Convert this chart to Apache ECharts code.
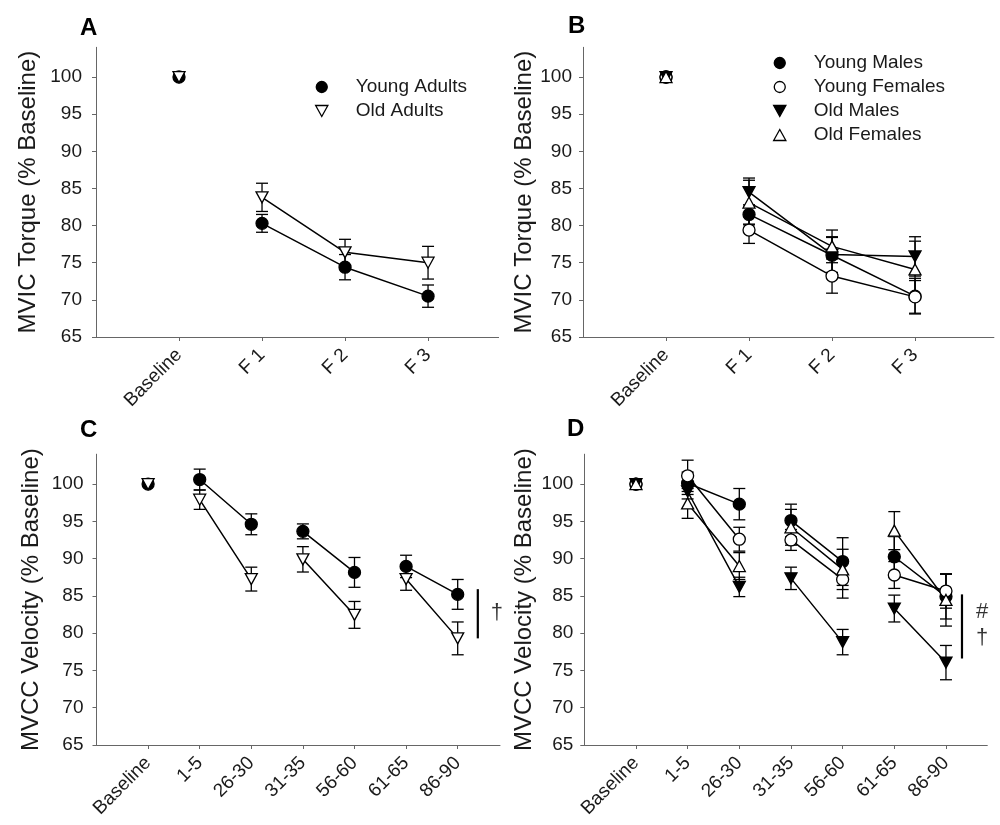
<!DOCTYPE html>
<html>
<head>
<meta charset="utf-8">
<script src="https://cdn.jsdelivr.net/npm/echarts@6/dist/echarts.min.js"></script>
<style>
html, body { margin: 0; background: #fff; }
#main { width: 1000px; height: 825px; }
</style>
</head>
<body>
<div id="main"></div>
<script>
// categories and ticks
var torqueLabels = ['Baseline', 'F 1', 'F 2', 'F 3'];
var velLabels = ['Baseline', '1-5', '26-30', '31-35', '56-60', '61-65', '86-90'];
var yTicks = [65, 70, 75, 80, 85, 90, 95, 100];

// A - MVIC torque, age groups (mean, SE)
var aYoung = [100, 80.3, 74.4, 70.5];
var aYoungErr = [0, 1.2, 1.7, 1.5];
var aOld = [100, 83.8, 76.4, 75.0];
var aOldErr = [0, 1.9, 1.75, 2.2];

// B - MVIC torque, age x sex
var bYM = [100, 81.5, 76.0, 70.5];
var bYMErr = [0, 1.3, 2.4, 2.4];
var bYF = [100, 79.4, 73.2, 70.4];
var bYFErr = [0, 1.8, 2.3, 2.2];
var bOM = [100, 84.5, 76.1, 75.85];
var bOMErr = [0, 1.9, 2.4, 2.65];
var bOF = [100, 83.1, 77.2, 74.1];
var bOFErr = [0, 3.0, 2.2, 3.8];

// C - MVCC velocity, age groups
var cYoung = [100, 100.6, 94.6, 93.65, 88.15, 88.95, 85.2];
var cYoungErr = [0, 1.4, 1.4, 1.0, 2.0, 1.5, 2.0];
var cOld = [100, 97.9, 87.25, 89.9, 82.45, 87.25, 79.3];
var cOldErr = [0, 1.3, 1.6, 1.7, 1.8, 1.5, 2.2];

// D - MVCC velocity, age x sex
var dYM = [100, 100.1, 97.3, 95.1, 89.6, 90.25, 84.9];
var dYMErr = [0, 1.5, 2.1, 2.2, 3.2, 2.7, 3.0];
var dYF = [100, 101.1, 92.6, 92.5, 87.2, 87.8, 85.65];
var dYFErr = [0, 2.1, 1.6, 1.4, 2.5, 1.8, 2.3];
var dOM = [100, 99.0, 86.2, 87.35, 78.8, 83.3, 76.05];
var dOMErr = [0, 1.0, 1.3, 1.5, 1.7, 1.8, 2.3];
var dOF = [100, 97.4, 89.0, 94.2, 88.55, 93.75, 84.45];
var dOFErr = [0, 2.0, 1.8, 2.4, 2.7, 2.55, 3.5];

// which points are joined by lines
var torqueSegs = [[0], [1, 2, 3]];
var velSegs = [[0], [1, 2], [3, 4], [5, 6]];

// significance marks (x in category units, y in % baseline)
var cSigLine = [[7.39, 85.9], [7.39, 79.3]];
var cSigText = [[7.76, 82.7, '†']];
var dSigLine = [[7.31, 85.2], [7.31, 76.6]];
var dSigText = [[7.70, 82.8, '#'], [7.70, 79.35, '†']];

var FONT = 'Liberation Sans, Arial, sans-serif';
var INK = '#1a1a1a';
var downTri = 'path://M0,0L10,0L5,9Z';
var upTri = 'path://M5,0L10,9L0,9Z';

var marks = {
  fillCircle: { symbol: 'circle', size: 12, fill: '#000' },
  openCircle: { symbol: 'circle', size: 12, fill: '#fff' },
  fillDown: { symbol: downTri, size: [12, 11], fill: '#000' },
  openDown: { symbol: downTri, size: [12, 11], fill: '#fff' },
  openUp: { symbol: upTri, size: [12, 11], fill: '#fff' }
};

function errRender(params, api) {
  var x = api.value(0);
  var top = api.coord([x, api.value(2)]);
  var bot = api.coord([x, api.value(1)]);
  var w = 6;
  var st = { stroke: '#000', lineWidth: 1.3 };
  return {
    type: 'group',
    children: [
      { type: 'line', shape: { x1: top[0], y1: top[1], x2: bot[0], y2: bot[1] }, style: st },
      { type: 'line', shape: { x1: top[0] - w, y1: top[1], x2: top[0] + w, y2: top[1] }, style: st },
      { type: 'line', shape: { x1: bot[0] - w, y1: bot[1], x2: bot[0] + w, y2: bot[1] }, style: st }
    ]
  };
}

var series = [];

function addGroup(gi, name, vals, errs, segs, mk) {
  var lineData = [];
  segs.forEach(function (seg) {
    seg.forEach(function (i) { lineData.push([i + 1, vals[i]]); });
    lineData.push([seg[seg.length - 1] + 1.5, '-']);
  });
  series.push({
    name: name + ' line', type: 'line', xAxisIndex: gi, yAxisIndex: gi,
    data: lineData, showSymbol: false, symbol: 'none', connectNulls: false,
    lineStyle: { color: '#000', width: 1.5 }, z: 2, silent: true
  });
  var errData = [];
  vals.forEach(function (v, i) {
    if (errs[i] > 0) errData.push([i + 1, v - errs[i], v + errs[i]]);
  });
  series.push({
    name: name + ' err', type: 'custom', xAxisIndex: gi, yAxisIndex: gi,
    data: errData, renderItem: errRender, encode: { x: 0, y: [1, 2] }, z: 3, silent: true
  });
  series.push({
    name: name, type: 'scatter', xAxisIndex: gi, yAxisIndex: gi,
    data: vals.map(function (v, i) { return [i + 1, v]; }),
    symbol: mk.symbol, symbolSize: mk.size,
    itemStyle: { color: mk.fill, borderColor: '#000', borderWidth: 1.3, opacity: 1 },
    z: 4, silent: true
  });
}

function addSig(gi, lineData, textData) {
  series.push({
    name: 'sig line ' + gi, type: 'line', xAxisIndex: gi, yAxisIndex: gi,
    data: lineData, symbol: 'none', lineStyle: { color: '#000', width: 2.2 }, z: 2, silent: true
  });
  series.push({
    name: 'sig text ' + gi, type: 'scatter', xAxisIndex: gi, yAxisIndex: gi, clip: false,
    data: textData.map(function (d) { return { value: [d[0], d[1]], label: { formatter: d[2] } }; }),
    symbolSize: 1, itemStyle: { color: 'transparent' },
    label: { show: true, position: 'inside', fontSize: 22, color: '#000', fontFamily: FONT },
    z: 5, silent: true
  });
}

addGroup(0, 'Young Adults', aYoung, aYoungErr, torqueSegs, marks.fillCircle);
addGroup(0, 'Old Adults', aOld, aOldErr, torqueSegs, marks.openDown);

addGroup(1, 'Young Males', bYM, bYMErr, torqueSegs, marks.fillCircle);
addGroup(1, 'Young Females', bYF, bYFErr, torqueSegs, marks.openCircle);
addGroup(1, 'Old Males', bOM, bOMErr, torqueSegs, marks.fillDown);
addGroup(1, 'Old Females', bOF, bOFErr, torqueSegs, marks.openUp);

addGroup(2, 'Young Adults', cYoung, cYoungErr, velSegs, marks.fillCircle);
addGroup(2, 'Old Adults', cOld, cOldErr, velSegs, marks.openDown);
addSig(2, cSigLine, cSigText);

addGroup(3, 'Young Males', dYM, dYMErr, velSegs, marks.fillCircle);
addGroup(3, 'Young Females', dYF, dYFErr, velSegs, marks.openCircle);
addGroup(3, 'Old Males', dOM, dOMErr, velSegs, marks.fillDown);
addGroup(3, 'Old Females', dOF, dOFErr, velSegs, marks.openUp);
addSig(3, dSigLine, dSigText);

function yAxisCfg(gi, name, gap, margin) {
  return {
    type: 'value', gridIndex: gi, min: 65, max: 104, interval: 5,
    name: name, nameLocation: 'middle', nameGap: gap,
    nameTextStyle: { fontSize: 24, color: INK, fontFamily: FONT },
    axisLine: { show: true, onZero: false, lineStyle: { color: '#666', width: 1 } },
    axisTick: { show: true, length: 4, customValues: yTicks, lineStyle: { color: '#666' } },
    axisLabel: { fontSize: 19, color: INK, margin: margin, customValues: yTicks },
    splitLine: { show: false }
  };
}

function xAxisCfg(gi, max, labels) {
  var pos = labels.map(function (l, i) { return i + 1; });
  return {
    type: 'value', gridIndex: gi, min: 0, max: max, interval: 1,
    axisLine: { show: true, onZero: false, lineStyle: { color: '#666', width: 1 } },
    axisTick: { show: true, length: 4, customValues: pos, lineStyle: { color: '#666' } },
    axisLabel: {
      customValues: pos, rotate: 45, fontSize: 19, margin: 15, color: INK,
      formatter: function (v) { return labels[Math.round(v) - 1] || ''; }
    },
    splitLine: { show: false }
  };
}

function panelTitle(txt, left, top) {
  return {
    text: txt, left: left, top: top, padding: 0,
    textStyle: { fontSize: 24, fontWeight: 'bold', color: '#000', fontFamily: FONT }
  };
}

function legendCfg(names, left, top) {
  return {
    data: names, left: left, top: top, orient: 'vertical',
    itemWidth: 58, itemHeight: 11, itemGap: 4, selectedMode: false,
    itemStyle: { borderWidth: 1.3, borderColor: '#000' },
    textStyle: { fontSize: 19, color: INK, lineHeight: 20, fontFamily: FONT }
  };
}

var chart = echarts.init(document.getElementById('main'), null, { renderer: 'canvas' });

chart.setOption({
  backgroundColor: '#fff',
  animation: false,
  textStyle: { fontFamily: FONT },
  title: [
    panelTitle('A', 80, 16),
    panelTitle('B', 568, 14),
    panelTitle('C', 80, 418),
    panelTitle('D', 567, 417)
  ],
  legend: [
    legendCfg(['Young Adults', 'Old Adults'], 310, 72),
    legendCfg(['Young Males', 'Young Females', 'Old Males', 'Old Females'], 768, 48)
  ],
  grid: [
    { left: 96, top: 47.3, width: 402.6, height: 289.7 },
    { left: 583, top: 47.3, width: 410.9, height: 289.7 },
    { left: 96.5, top: 454.2, width: 403.5, height: 290.8 },
    { left: 584.3, top: 454.2, width: 403, height: 290.8 }
  ],
  xAxis: [
    xAxisCfg(0, 4.85, torqueLabels),
    xAxisCfg(1, 4.95, torqueLabels),
    xAxisCfg(2, 7.82, velLabels),
    xAxisCfg(3, 7.8, velLabels)
  ],
  yAxis: [
    yAxisCfg(0, 'MVIC Torque (% Baseline)', 56, 14),
    yAxisCfg(1, 'MVIC Torque (% Baseline)', 46, 11),
    yAxisCfg(2, 'MVCC Velocity (% Baseline)', 53, 13),
    yAxisCfg(3, 'MVCC Velocity (% Baseline)', 48, 11)
  ],
  series: series
});
</script>
</body>
</html>
